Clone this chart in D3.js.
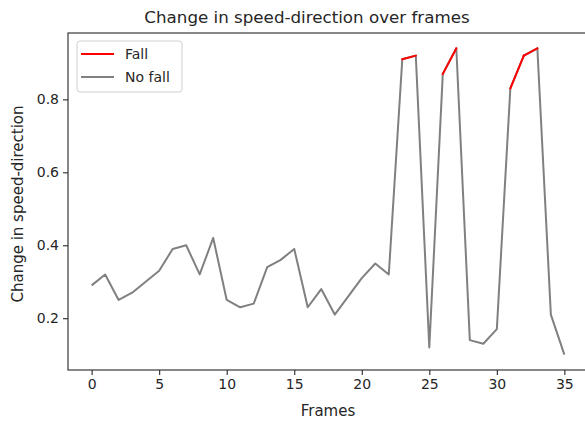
<!DOCTYPE html>
<meta charset="utf-8">
<script src="https://d3js.org/d3.v7.min.js"></script>
<style>
  body { margin: 0; background: #fff; }
  text { font-family: "DejaVu Sans", sans-serif; fill: #262626; }
</style>
<div id="my_dataviz"></div>
<script>
    // values
    var frames = d3.range(36)
    var speedDir = [0.29, 0.32, 0.25, 0.27, 0.30, 0.33, 0.39, 0.40, 0.32, 0.42,
                    0.25, 0.23, 0.24, 0.34, 0.36, 0.39, 0.23, 0.28, 0.21, 0.26,
                    0.31, 0.35, 0.32, 0.91, 0.92, 0.12, 0.87, 0.94, 0.14, 0.13,
                    0.17, 0.83, 0.92, 0.94, 0.21, 0.10]
    var fall = [0, 0, 0, 0, 0, 0, 0, 0, 0, 0,
                0, 0, 0, 0, 0, 0, 0, 0, 0, 0,
                0, 0, 0, 1, 1, 0, 1, 1, 0, 0,
                0, 1, 1, 1, 0, 0]
    var xTicks = [0, 5, 10, 15, 20, 25, 30, 35]
    var yTicks = [0.2, 0.4, 0.6, 0.8]
    var legendNames = ["Fall", "No fall"]
    var legendColors = ["red", "gray"]

    var width = 585
    var height = 425
    // plot area (note: "top" is a reserved window prop, so use own names)
    var pLeft = 68, pRight = 588, pTop = 33, pBottom = 370

    var svg = d3.select("#my_dataviz")
        .append("svg")
        .attr("width", width)
        .attr("height", height)

    var x = d3.scaleLinear().domain([-1.75, 36.75]).range([pLeft, pRight])
    var y = d3.scaleLinear().domain([0.058, 0.982]).range([pBottom, pTop])

    var data = frames.map(function(f, i) { return { f: f, v: speedDir[i], fall: fall[i] } })

    var line = d3.line()
        .x(function(d) { return x(d.f) })
        .y(function(d) { return y(d.v) })

    // gray line over everything
    svg.append("path")
        .datum(data)
        .attr("d", line)
        .attr("fill", "none")
        .attr("stroke", "gray")
        .attr("stroke-width", 2)
        .attr("stroke-linejoin", "round")

    // red segments where both ends are falls
    var segs = []
    for (var i = 0; i < data.length - 1; i++) {
        if (data[i].fall && data[i + 1].fall) segs.push([data[i], data[i + 1]])
    }
    svg.selectAll(".fallseg")
        .data(segs)
        .enter()
        .append("path")
        .attr("class", "fallseg")
        .attr("d", line)
        .attr("fill", "none")
        .attr("stroke", "red")
        .attr("stroke-width", 2)
        .attr("stroke-linecap", "square")

    // axes
    var xAxis = svg.append("g")
        .attr("transform", "translate(0," + pBottom + ")")
        .call(d3.axisBottom(x).tickValues(xTicks).tickSize(5).tickPadding(4).tickFormat(d3.format("d")))
    var yAxis = svg.append("g")
        .attr("transform", "translate(" + pLeft + ",0)")
        .call(d3.axisLeft(y).tickValues(yTicks).tickSize(5).tickPadding(4).tickFormat(d3.format(".1f")))

    ;[xAxis, yAxis].forEach(function(a) {
        a.select(".domain").remove()
        a.selectAll("line").attr("stroke", "#262626").attr("stroke-width", 1.1)
        a.selectAll("text").attr("font-size", 14).attr("fill", "#262626")
            .style("font-family", "DejaVu Sans, sans-serif")
    })

    // spines
    svg.append("rect")
        .attr("x", pLeft).attr("y", pTop)
        .attr("width", pRight - pLeft).attr("height", pBottom - pTop)
        .attr("fill", "none").attr("stroke", "#262626").attr("stroke-width", 1.1)

    // titles
    svg.append("text")
        .attr("x", 307).attr("y", 23)
        .attr("text-anchor", "middle").attr("font-size", 16.7)
        .text("Change in speed-direction over frames")
    svg.append("text")
        .attr("x", 328).attr("y", 415.5)
        .attr("text-anchor", "middle").attr("font-size", 15)
        .text("Frames")
    svg.append("text")
        .attr("transform", "translate(23,204) rotate(-90)")
        .attr("text-anchor", "middle").attr("font-size", 15)
        .text("Change in speed-direction")

    // legend
    var lg = svg.append("g").attr("transform", "translate(77,41)")
    lg.append("rect")
        .attr("width", 105).attr("height", 51).attr("rx", 3)
        .attr("fill", "#fff").attr("fill-opacity", 0.8)
        .attr("stroke", "#d0d0d0").attr("stroke-width", 1)
    var items = lg.selectAll(".item")
        .data(legendNames)
        .enter()
        .append("g")
        .attr("transform", function(d, i) { return "translate(0," + (13 + i * 23) + ")" })
    items.append("line")
        .attr("x1", 4).attr("x2", 37)
        .attr("stroke", function(d, i) { return legendColors[i] })
        .attr("stroke-width", 2)
    items.append("text")
        .attr("x", 48).attr("y", 5)
        .attr("font-size", 14)
        .text(function(d) { return d })
</script>
